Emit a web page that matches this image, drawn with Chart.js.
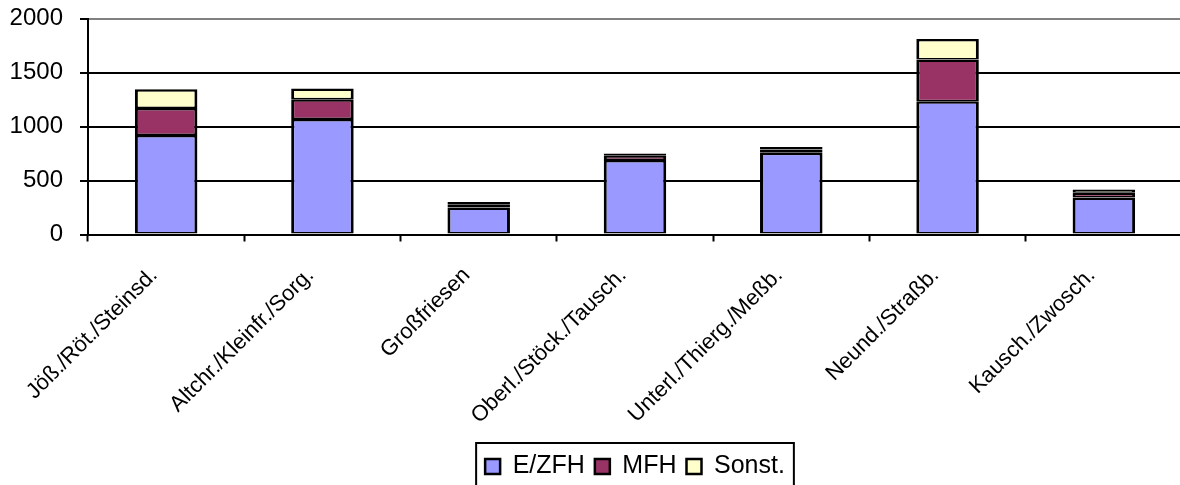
<!DOCTYPE html>
<html>
<head>
<meta charset="utf-8">
<script src="https://cdn.jsdelivr.net/npm/chart.js@4"></script>
<style>
  html, body { margin: 0; padding: 0; background: #fff; overflow: hidden; }
  #wrap { width: 1183px; height: 490px; }
</style>
</head>
<body>
<div id="wrap"><canvas id="chart" width="1183" height="490"></canvas></div>
<script>
const categories = ['Jöß./Röt./Steinsd.', 'Altchr./Kleinfr./Sorg.', 'Großfriesen', 'Oberl./Stöck./Tausch.', 'Unterl./Thierg./Meßb.', 'Neund./Straßb.', 'Kausch./Zwosch.'];
const ezfh = [921, 1070, 250, 690, 756, 1234, 342];
const mfh = [251, 182, 30, 40, 30, 387, 45];
const sonst = [173, 100, 20, 20, 25, 189, 30];
const yTicks = [0, 500, 1000, 1500, 2000];

const FONT = 'Liberation Sans, Arial, sans-serif';

// frame round the legend items, like the spreadsheet legend box
const legendFrame = {
    id: 'legendFrame',
    afterDraw(chart) {
        const boxes = chart.legend && chart.legend.legendHitBoxes;
        if (!boxes || !boxes.length) return;
        const left = Math.min(...boxes.map(b => b.left)) - 9;
        const right = Math.max(...boxes.map(b => b.left + b.width)) + 9;
        const top = Math.min(...boxes.map(b => b.top)) - 11;
        const bottom = Math.max(...boxes.map(b => b.top + b.height)) + 12;
        const c = chart.ctx;
        c.save();
        c.strokeStyle = '#000';
        c.lineWidth = 2;
        c.strokeRect(left, top, right - left, bottom - top);
        c.restore();
    }
};

const border = { top: 2.5, bottom: 1.5, left: 3, right: 3 };

new Chart(document.getElementById('chart'), {
    type: 'bar',
    data: {
        labels: categories,
        datasets: [
            { label: 'E/ZFH', data: ezfh, backgroundColor: '#9999FF' },
            { label: 'MFH', data: mfh, backgroundColor: '#993366' },
            { label: 'Sonst.', data: sonst, backgroundColor: '#FFFFCC' }
        ].map(d => Object.assign(d, {
            borderColor: '#000',
            borderWidth: border,
            borderSkipped: false,
            barPercentage: 0.4,
            categoryPercentage: 1.0
        }))
    },
    options: {
        responsive: false,
        animation: false,
        layout: { padding: { top: 18.5, right: 1, left: 0, bottom: 1 } },
        plugins: {
            legend: {
                position: 'bottom',
                fullSize: false,
                labels: {
                    boxWidth: 15,
                    boxHeight: 15,
                    padding: 10,
                    color: '#000',
                    font: { family: FONT, size: 25 }
                }
            },
            tooltip: { enabled: false }
        },
        scales: {
            x: {
                stacked: true,
                afterFit: s => { s.height = 209.5; },
                border: { display: true, color: '#000', width: 2 },
                grid: {
                    offset: true,
                    drawOnChartArea: false,
                    drawTicks: true,
                    tickLength: 7,
                    tickColor: '#000',
                    tickWidth: 2
                },
                ticks: {
                    minRotation: 45,
                    maxRotation: 45,
                    autoSkip: false,
                    padding: 21,
                    labelOffset: -12,
                    color: '#000',
                    font: { family: FONT, size: 22 }
                }
            },
            y: {
                stacked: true,
                min: yTicks[0],
                max: yTicks[yTicks.length - 1],
                afterFit: s => {
                    s.width = 88;
                    s.paddingTop = 0;
                    s.paddingBottom = 0;
                },
                afterBuildTicks: s => { s.ticks = yTicks.map(v => ({ value: v })); },
                border: { display: true, color: '#000', width: 2 },
                grid: {
                    color: ctx => (ctx.tick && ctx.tick.value === 2000) ? '#808080' : '#000',
                    lineWidth: 2,
                    tickLength: 8,
                    tickColor: '#000',
                    tickWidth: 2
                },
                ticks: {
                    padding: 17,
                    color: '#000',
                    font: { family: FONT, size: 24 },
                    callback: v => String(v)
                }
            }
        }
    },
    plugins: [legendFrame]
});
</script>
</body>
</html>
